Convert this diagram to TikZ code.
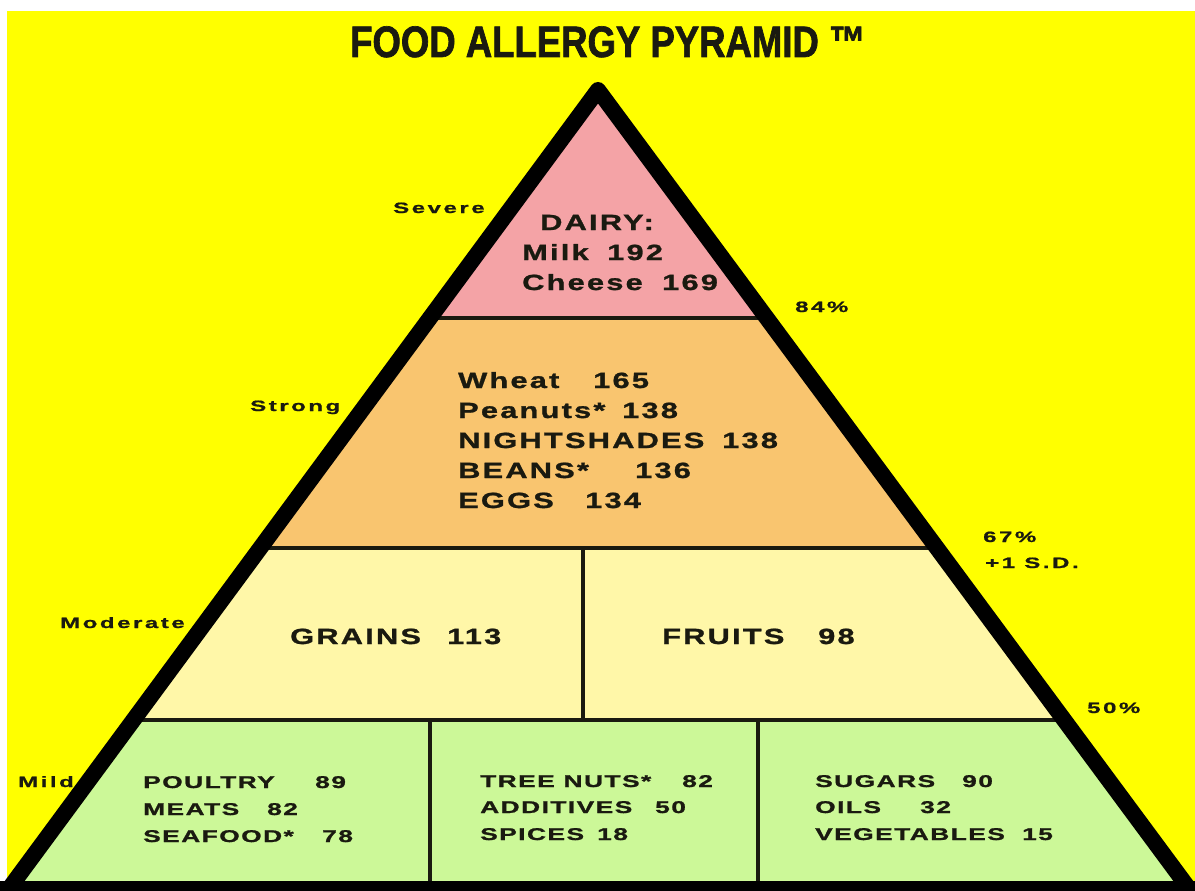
\documentclass[tikz,border=0pt]{standalone}
\usepackage{fontspec}
\setmainfont{Liberation Sans}
\newfontfamily\widefont[FakeStretch=1.4,LetterSpace=10,FakeBold=1.2]{Liberation Sans}
\newfontfamily\smallwidefont[FakeStretch=1.55,LetterSpace=8.5,FakeBold=1.2]{Liberation Sans}
\newfontfamily\sidefont[FakeStretch=1.6,LetterSpace=17,FakeBold=1]{Liberation Sans}
\newfontfamily\titlefont[FakeStretch=0.83,FakeBold=1.5]{Liberation Sans}
\definecolor{bgyellow}{HTML}{FFFF00}
\definecolor{dairyc}{HTML}{F4A3A6}
\definecolor{strongc}{HTML}{F9C56F}
\definecolor{moderc}{HTML}{FFF7A8}
\definecolor{mildc}{HTML}{CCF898}
\definecolor{inkc}{HTML}{1A1A10}
\newcommand{\lead}[2]{\makebox[#1pt][l]{#2}}
\begin{document}
\begin{tikzpicture}[x=1pt,y=-1pt,
  txt/.style={anchor=base west, inner sep=0pt, text=inkc},
  bigtxt/.style={txt, font={\widefont\bfseries\fontsize{22}{26}\selectfont}},
  smalltxt/.style={txt, font={\smallwidefont\bfseries\fontsize{17}{20}\selectfont}},
  sidetxt/.style={txt, font={\sidefont\bfseries\fontsize{15}{17}\selectfont}},
  divider/.style={draw=inkc, line width=4.5pt},
  outline/.style={draw=black, line width=16pt, line join=round}]
\useasboundingbox (0,0) rectangle (1195,891);
\fill[white] (0,0) rectangle (1195,891);
\fill[bgyellow] (7,11) rectangle (1195,891);
% bands
\begin{scope}
\clip (598,90) -- (11,886) -- (1187,886) -- cycle;
\fill[dairyc] (0,0) rectangle (1195,318);
\fill[strongc] (0,318) rectangle (1195,548);
\fill[moderc] (0,548) rectangle (1195,720);
\fill[mildc] (0,720) rectangle (1195,886);
\draw[divider] (0,318) -- (1195,318);
\draw[divider] (0,548) -- (1195,548);
\draw[divider] (0,720) -- (1195,720);
\draw[divider] (583,548) -- (583,720);
\draw[divider] (430,720) -- (430,886);
\draw[divider] (758,720) -- (758,886);
\end{scope}
\draw[outline] (11,886) -- (598,90) -- (1187,886);
\draw[black, line width=11pt] (0,886) -- (1195,886);
% title
\node[txt, font={\titlefont\bfseries\fontsize{44}{46}\selectfont}] (title) at (350,57) {FOOD ALLERGY PYRAMID ™};
% dairy
\node[bigtxt] (dairy) at (540,230) {DAIRY:};
\node[bigtxt] (milk) at (522,260) {\lead{85}{Milk}192};
\node[bigtxt] (cheese) at (522,290) {\lead{140}{Cheese}169};
% strong
\node[bigtxt] (wheat) at (458,388) {\lead{135}{Wheat}165};
\node[bigtxt] (peanuts) at (458,418) {\lead{164}{Peanuts*}138};
\node[bigtxt] (night) at (458,448) {\lead{264}{NIGHTSHADES}138};
\node[bigtxt] (beans) at (458,478) {\lead{177}{BEANS*}136};
\node[bigtxt] (eggs) at (458,508) {\lead{127}{EGGS}134};
% moderate
\node[bigtxt] (grains) at (290,644) {\lead{157}{GRAINS}113};
\node[bigtxt] (fruits) at (662,644) {\lead{156}{FRUITS}98};
% mild
\node[smalltxt] (poultry) at (143,788) {\lead{172}{POULTRY}89};
\node[smalltxt] (meats) at (143,815) {\lead{124}{MEATS}82};
\node[smalltxt] (seafood) at (143,842) {\lead{179}{SEAFOOD*}78};
\node[smalltxt] (treenuts) at (480,787) {\lead{202}{TREE NUTS*}82};
\node[smalltxt] (additives) at (480,813) {\lead{175}{ADDITIVES}50};
\node[smalltxt] (spices) at (480,840) {\lead{117}{SPICES}18};
\node[smalltxt] (sugars) at (815,787) {\lead{147}{SUGARS}90};
\node[smalltxt] (oils) at (815,813) {\lead{105}{OILS}32};
\node[smalltxt] (veg) at (815,840) {\lead{207}{VEGETABLES}15};
% side labels
\node[sidetxt] (severe) at (393,213) {Severe};
\node[sidetxt] (p84) at (795,312) {84\%};
\node[sidetxt] (strong) at (250,411) {Strong};
\node[sidetxt] (p67) at (983,542) {67\%};
\node[sidetxt] (sd) at (985,568) {+1 S.D.};
\node[sidetxt] (moderate) at (60,628) {Moderate};
\node[sidetxt] (p50) at (1087,713) {50\%};
\node[sidetxt] (mild) at (18,787) {Mild};
\end{tikzpicture}
\end{document}
